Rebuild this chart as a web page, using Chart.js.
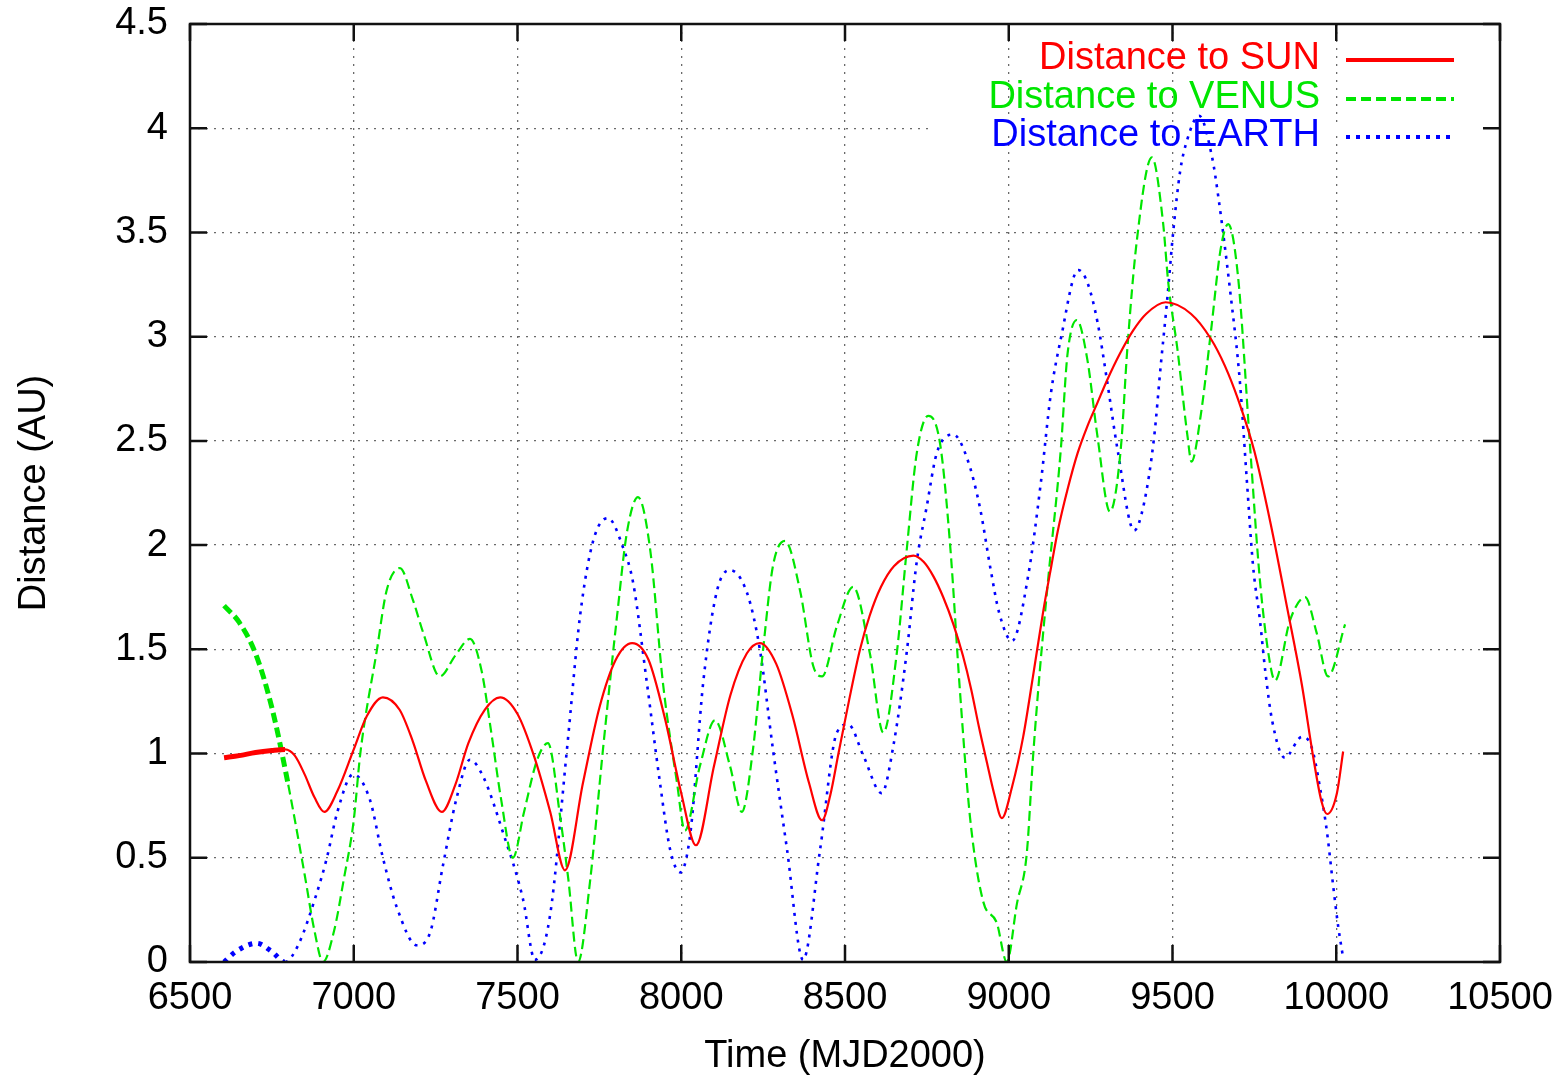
<!DOCTYPE html>
<html><head><meta charset="utf-8">
<script src="https://cdn.jsdelivr.net/npm/chart.js@4/dist/chart.umd.min.js"></script>
<style>html,body{margin:0;padding:0;background:#fff;overflow:hidden}canvas{display:block}</style>
</head><body>
<canvas id="c" width="1565" height="1079"></canvas>
<script>
// ---- tick labels ----
const xTickValues = [6500, 7000, 7500, 8000, 8500, 9000, 9500, 10000, 10500];
const yTickValues = [0, 0.5, 1, 1.5, 2, 2.5, 3, 3.5, 4, 4.5];
const xTitle = 'Time (MJD2000)';
const yTitle = 'Distance (AU)';
const seriesLabels = ['Distance to SUN', 'Distance to VENUS', 'Distance to EARTH'];

// ---- Distance to SUN ----
const sunTime = [6604,6650,6700,6750,6790,6820,6850,6880,6910,6950,7000,7040,7089,7140,7180,7220,7269,7310,7350,7400,7447,7500,7550,7600,7645,7700,7750,7800,7850,7900,7950,8000,8045,8100,8150,8200,8240,8290,8340,8390,8430,8455,8480,8513,8546,8575,8610,8650,8709,8740,8770,8800,8831,8860,8885,8910,8933,8955,8979,9010,9044,9074,9105,9130,9150,9180,9210,9240,9270,9300,9340,9380,9420,9479,9556,9617,9660,9700,9750,9800,9850,9895,9930,9955,9972,10002,10021];
const sunDist = [0.98,0.99,1.005,1.015,1.02,0.99,0.90,0.79,0.72,0.82,1.02,1.18,1.27,1.21,1.06,0.87,0.72,0.85,1.05,1.21,1.27,1.19,0.99,0.72,0.44,0.86,1.22,1.45,1.53,1.45,1.17,0.81,0.56,0.94,1.28,1.48,1.53,1.43,1.18,0.86,0.68,0.80,1.00,1.26,1.50,1.66,1.80,1.90,1.95,1.92,1.85,1.75,1.62,1.47,1.31,1.12,0.96,0.81,0.69,0.84,1.08,1.37,1.68,1.90,2.07,2.27,2.44,2.57,2.68,2.79,2.92,3.03,3.11,3.165,3.11,2.99,2.86,2.70,2.45,2.10,1.70,1.33,0.98,0.77,0.71,0.81,1.01];

// ---- Distance to VENUS ----
const venusTime = [6604,6650,6700,6750,6800,6850,6880,6906,6940,6970,7000,7020,7071,7100,7141,7180,7212,7263,7310,7355,7390,7420,7450,7486,7520,7560,7593,7630,7655,7685,7721,7761,7804,7834,7868,7905,7944,7987,8011,8057,8103,8149,8185,8219,8250,8280,8317,8363,8403,8430,8475,8525,8576,8617,8658,8688,8719,8754,8790,8821,8851,8882,8922,8963,8994,9025,9055,9074,9095,9120,9159,9179,9208,9240,9271,9309,9342,9362,9391,9437,9471,9487,9515,9546,9558,9586,9617,9647,9670,9700,9737,9767,9798,9813,9859,9905,9940,9975,10027];
const venusDist = [1.71,1.63,1.48,1.22,0.85,0.42,0.15,0.0,0.15,0.40,0.68,1.0,1.5,1.78,1.89,1.74,1.58,1.37,1.47,1.55,1.40,1.10,0.78,0.50,0.72,0.97,1.05,0.70,0.40,0.0,0.38,1.02,1.66,2.06,2.23,1.98,1.34,0.86,0.63,0.94,1.16,0.94,0.72,1.02,1.50,1.90,2.02,1.78,1.42,1.37,1.61,1.80,1.48,1.10,1.48,1.97,2.44,2.62,2.49,2.0,1.30,0.69,0.29,0.19,0.0,0.28,0.52,0.98,1.40,1.83,2.46,2.91,3.08,2.89,2.52,2.16,2.46,2.94,3.46,3.86,3.55,3.26,2.94,2.52,2.40,2.62,3.02,3.42,3.54,3.29,2.47,1.83,1.43,1.35,1.64,1.75,1.58,1.37,1.62];

// ---- Distance to EARTH ----
const earthTime = [6604,6640,6704,6750,6790,6830,6887,6918,6950,6998,7049,7089,7132,7193,7233,7272,7313,7355,7395,7456,7517,7553,7599,7651,7691,7731,7776,7822,7853,7895,7935,7966,7997,8028,8067,8109,8149,8201,8240,8280,8323,8372,8424,8475,8510,8556,8612,8648,8688,8719,8749,8780,8831,8872,8912,8945,8970,9010,9059,9098,9128,9159,9212,9240,9271,9301,9332,9383,9413,9444,9464,9484,9502,9523,9544,9581,9621,9640,9676,9706,9727,9746,9767,9783,9804,9843,9895,9925,9950,9972,9991,10006,10020];
const earthDist = [0.0,0.05,0.09,0.05,0.0,0.08,0.33,0.50,0.72,0.90,0.78,0.50,0.26,0.08,0.14,0.46,0.78,0.97,0.89,0.62,0.30,0.01,0.22,1.02,1.66,2.02,2.13,1.99,1.82,1.34,0.86,0.54,0.43,0.62,1.34,1.78,1.88,1.77,1.50,1.02,0.54,0.01,0.54,1.10,1.14,0.99,0.81,1.04,1.48,1.92,2.18,2.44,2.53,2.42,2.18,1.88,1.68,1.54,1.85,2.30,2.72,2.99,3.32,3.26,3.07,2.78,2.46,2.07,2.20,2.52,2.86,3.18,3.50,3.79,3.94,4.06,3.86,3.67,3.22,2.78,2.31,1.90,1.64,1.40,1.16,0.98,1.08,1.03,0.84,0.62,0.36,0.17,0.03];

const colors = ['#ff0000', '#00e600', '#0000ff'];
const FONT = "'Liberation Sans', Arial, Helvetica, sans-serif";
const FS = 38;
const thickUntil = 6810;

function pts(t, d) { return t.map((x, i) => ({x: x, y: d[i]})); }

const thick = (thin, fat) => ctx => (ctx.p1.parsed.x <= thickUntil ? fat : thin);

const datasets = [
  {label: seriesLabels[0], data: pts(sunTime, sunDist), borderColor: colors[0], borderWidth: 2.2,
   segment: {borderWidth: thick(2.2, 5)}},
  {label: seriesLabels[1], data: pts(venusTime, venusDist), borderColor: colors[1], borderWidth: 2.2,
   borderDash: [10, 5], segment: {borderWidth: thick(2.2, 5), borderDash: thick([10,5],[10,5])}},
  {label: seriesLabels[2], data: pts(earthTime, earthDist), borderColor: colors[2], borderWidth: 2.6,
   borderDash: [3, 6], segment: {borderWidth: thick(2.6, 5), borderDash: thick([3,6],[4,6])}}
].map(d => Object.assign({pointRadius: 0, fill: false, cubicInterpolationMode: 'monotone', borderCapStyle: 'butt', borderJoinStyle: 'round'}, d));

const frame = {
  id: 'frame',
  beforeDatasetsDraw(chart) {
    // gnuplot key box hides part of the 4.0 grid line
    const {ctx, scales: {x, y}} = chart;
    const yy = y.getPixelForValue(4);
    ctx.save();
    ctx.fillStyle = '#fff';
    ctx.fillRect(930, yy - 3, x.getPixelForValue(10500) - 930 - 2, 6);
    ctx.restore();
  },
  afterDraw(chart) {
    const {ctx, chartArea: a, scales: {x, y}} = chart;
    ctx.save();
    ctx.strokeStyle = '#111';
    ctx.lineWidth = 2.5;
    ctx.setLineDash([]);
    ctx.strokeRect(a.left, a.top, a.right - a.left, a.bottom - a.top);
    const L = 17;
    ctx.beginPath();
    xTickValues.forEach(v => {
      const px = x.getPixelForValue(v);
      ctx.moveTo(px, a.bottom); ctx.lineTo(px, a.bottom - L);
      ctx.moveTo(px, a.top); ctx.lineTo(px, a.top + L);
    });
    yTickValues.forEach(v => {
      const py = y.getPixelForValue(v);
      ctx.moveTo(a.left, py); ctx.lineTo(a.left + L, py);
      ctx.moveTo(a.right, py); ctx.lineTo(a.right - L, py);
    });
    ctx.stroke();
    // key
    ctx.font = FS + 'px ' + FONT;
    ctx.textAlign = 'right';
    ctx.textBaseline = 'middle';
    const rowsY = [59, 98, 136];
    const dashes = [[], [10, 5], [4, 6]];
    chart.data.datasets.forEach((ds, i) => {
      ctx.fillStyle = ds.borderColor;
      ctx.fillText(ds.label, 1320, rowsY[i]);
      ctx.strokeStyle = ds.borderColor;
      ctx.lineWidth = 4;
      ctx.setLineDash(dashes[i]);
      ctx.beginPath();
      ctx.moveTo(1346, rowsY[i] + 1);
      ctx.lineTo(1454, rowsY[i] + 1);
      ctx.stroke();
    });
    ctx.restore();
  }
};

Chart.defaults.font.family = FONT;
Chart.defaults.font.size = FS;
Chart.defaults.color = '#000';

new Chart(document.getElementById('c'), {
  type: 'line',
  data: {datasets},
  options: {
    responsive: false,
    devicePixelRatio: 1,
    animation: false,
    layout: {padding: {top: 24, right: 65, left: 0, bottom: 0}},
    plugins: {legend: {display: false}, tooltip: {enabled: false}},
    scales: {
      x: {
        type: 'linear', position: 'bottom', min: 6500, max: 10500,
        afterBuildTicks: s => { s.ticks = xTickValues.map(v => ({value: v})); },
        afterFit: s => { s.height = 117; s.paddingLeft = 0; s.paddingRight = 0; },
        ticks: {padding: 14, maxRotation: 0, autoSkip: false, callback: v => String(v), color: '#000'},
        grid: {drawTicks: false, color: c => (c.tick && (c.tick.value === 6500 || c.tick.value === 10500)) ? 'rgba(0,0,0,0)' : 'rgba(90,90,90,0.9)', lineWidth: 1.3},
        border: {display: false, dash: [2, 6]},
        title: {display: true, text: xTitle, color: '#000', padding: {top: 0, bottom: 0}}
      },
      y: {
        type: 'linear', position: 'left', min: 0, max: 4.5,
        afterBuildTicks: s => { s.ticks = yTickValues.map(v => ({value: v})); },
        afterFit: s => { s.width = 190; s.paddingTop = 0; s.paddingBottom = 0; },
        ticks: {padding: 22, autoSkip: false, callback: v => String(v), color: '#000'},
        grid: {drawTicks: false, color: c => (c.tick && (c.tick.value === 0 || c.tick.value === 4.5)) ? 'rgba(0,0,0,0)' : 'rgba(90,90,90,0.9)', lineWidth: 1.3},
        border: {display: false, dash: [2, 6]},
        title: {display: true, text: yTitle, color: '#000', padding: {top: 12, bottom: 0}}
      }
    }
  },
  plugins: [frame]
});
</script>
</body></html>
